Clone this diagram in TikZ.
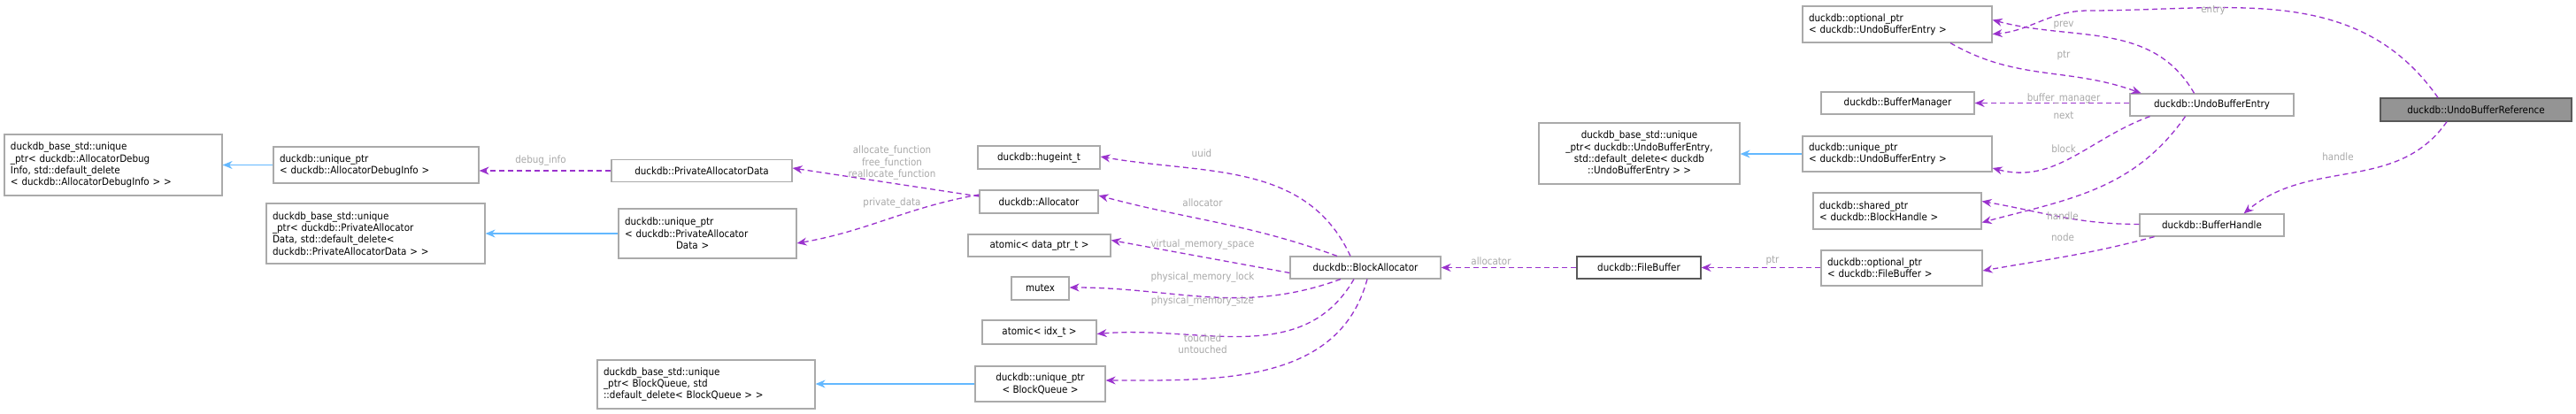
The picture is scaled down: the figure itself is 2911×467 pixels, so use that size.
\documentclass[tikz,border=0pt]{standalone}
\usepackage{fontspec}
\setmainfont{DejaVu Sans Condensed}
\usetikzlibrary{arrows.meta}
\definecolor{edgep}{HTML}{9A32CD}
\definecolor{edgeb}{HTML}{63B8FF}
\definecolor{bord}{HTML}{AAAAAA}
\definecolor{lab}{HTML}{A8A8A8}
\begin{document}
\begin{tikzpicture}[x=1pt,y=-1pt,
  every node/.style={font=\fontsize{11.5}{13.3}\selectfont},
  bx/.style={draw=bord,line width=1.2pt,fill=white,inner sep=0pt,align=left},
  rel/.style={draw=edgep,line width=1.3pt,dash pattern=on 6pt off 4pt,-{Stealth[length=11pt,width=9pt]}},
  inh/.style={draw=edgeb,line width=1.3pt,-{Stealth[length=11pt,width=9pt]}},
  lb/.style={text=lab,inner sep=0pt,align=center}]
\useasboundingbox (0,0) rectangle (2911,467);
% boxes
\node[bx,minimum width=246pt,minimum height=69pt,text width=232pt] (a1) at (128,186.5) {duckdb\_base\_std::unique\\\_ptr< duckdb::AllocatorDebug\\Info, std::default\_delete\\< duckdb::AllocatorDebugInfo > >};
\node[bx,minimum width=232pt,minimum height=41pt,text width=218pt] (upa) at (425,186.5) {duckdb::unique\_ptr\\< duckdb::AllocatorDebugInfo >};
\node[bx,minimum width=204pt,minimum height=25pt,align=center] (pad) at (793,193) {duckdb::PrivateAllocatorData};
\node[bx,minimum width=247pt,minimum height=68pt,text width=233pt] (basep) at (424.5,264) {duckdb\_base\_std::unique\\\_ptr< duckdb::PrivateAllocator\\Data, std::default\_delete<\\ duckdb::PrivateAllocatorData > >};
\node[bx,minimum width=201pt,minimum height=56pt,text width=187pt] (upp) at (799.5,264) {duckdb::unique\_ptr\\< duckdb::PrivateAllocator\\\hspace*{58pt}Data >};
\node[bx,minimum width=138pt,minimum height=26pt,align=center] (huge) at (1174,178) {duckdb::hugeint\_t};
\node[bx,minimum width=134pt,minimum height=26pt,align=center] (alloc) at (1174,228) {duckdb::Allocator};
\node[bx,minimum width=161pt,minimum height=25pt,align=center] (atd) at (1174.5,277.5) {atomic< data\_ptr\_t >};
\node[bx,minimum width=65pt,minimum height=26pt,align=center] (mtx) at (1175.5,326) {mutex};
\node[bx,minimum width=129pt,minimum height=27pt,align=center] (ati) at (1174.5,375.5) {atomic< idx\_t >};
\node[bx,minimum width=147pt,minimum height=40pt,align=center] (upbq) at (1175.5,434) {duckdb::unique\_ptr\\< BlockQueue >};
\node[bx,minimum width=246pt,minimum height=55pt,text width=232pt] (basebq) at (798,434.5) {duckdb\_base\_std::unique\\\_ptr< BlockQueue, std\\::default\_delete< BlockQueue > >};
\node[bx,minimum width=170pt,minimum height=25pt,align=center] (ba) at (1543,302.5) {duckdb::BlockAllocator};
\node[bx,draw=black!65,minimum width=140pt,minimum height=25pt,align=center] (fb) at (1852,302.5) {duckdb::FileBuffer};
\node[bx,minimum width=182pt,minimum height=40pt,text width=168pt] (optfb) at (2149,303) {duckdb::optional\_ptr\\< duckdb::FileBuffer >};
\node[bx,minimum width=190pt,minimum height=41pt,text width=176pt] (sbh) at (2144,238.5) {duckdb::shared\_ptr\\< duckdb::BlockHandle >};
\node[bx,minimum width=163pt,minimum height=25pt,align=center] (bh) at (2499.5,254.5) {duckdb::BufferHandle};
\node[bx,minimum width=214pt,minimum height=40pt,text width=200pt] (upube) at (2144,174) {duckdb::unique\_ptr\\< duckdb::UndoBufferEntry >};
\node[bx,minimum width=227pt,minimum height=69pt,align=center] (baseube) at (1852.5,173.5) {duckdb\_base\_std::unique\\\_ptr< duckdb::UndoBufferEntry,\\std::default\_delete< duckdb\\::UndoBufferEntry > >};
\node[bx,minimum width=214pt,minimum height=41pt,text width=200pt] (optube) at (2144,27.5) {duckdb::optional\_ptr\\< duckdb::UndoBufferEntry >};
\node[bx,minimum width=173pt,minimum height=25pt,align=center] (bm) at (2144.5,116.5) {duckdb::BufferManager};
\node[bx,minimum width=185pt,minimum height=25pt,align=center] (ube) at (2499.5,118.5) {duckdb::UndoBufferEntry};
\node[bx,draw=black!65,fill=black!42,minimum width=216pt,minimum height=26pt,align=center] (ubr) at (2798,124) {duckdb::UndoBufferReference};
% inheritance
\draw[inh] (upa.west) -- (a1.east |- upa.west);
\draw[inh] (upp.west) -- (basep.east |- upp.west);
\draw[inh] (upbq.west) -- (basebq.east |- upbq.west);
\draw[inh] (upube.west) -- (baseube.east |- upube.west);
% relations
\draw[rel] (pad.west) -- (upa.east |- pad.west);
\draw[rel] ([yshift=6pt]alloc.west) -- ([yshift=3pt]pad.east);
\draw[rel] ([yshift=8pt]alloc.west) to[out=190,in=10] ([yshift=-11pt]upp.east);
\draw[rel] ([xshift=-17pt]ba.north) to[out=115,in=-10] ([yshift=1pt]huge.east);
\draw[rel] ([xshift=-32pt]ba.north) to[out=160,in=-15] ([yshift=7pt]alloc.east);
\draw[rel] ([yshift=-6pt]ba.west) -- ([yshift=6pt]atd.east);
\draw[rel] ([xshift=-28pt]ba.south) to[out=200,in=0] ([yshift=1pt]mtx.east);
\draw[rel] ([xshift=-13pt]ba.south) to[out=240,in=5] ([yshift=-2pt]ati.east);
\draw[rel] ([xshift=2pt]ba.south) to[out=255,in=0] ([yshift=4pt]upbq.east);
\draw[rel] (fb.west) -- (ba.east);
\draw[rel] (optfb.west |- fb.east) -- (fb.east);
\draw[rel] ([yshift=1pt]bh.west) to[out=180,in=-10] ([yshift=11pt]sbh.east);
\draw[rel] ([xshift=-65pt]bh.south) to[out=195,in=10] ([yshift=-3pt]optfb.east);
\draw[rel] ([xshift=-20pt]ube.north) to[out=120,in=-15] ([yshift=5pt]optube.east);
\draw[rel] ([xshift=60pt]optube.south) to[out=-30,in=160] ([xshift=-80pt]ube.north);
\draw[rel] (ube.west |- bm.east) -- (bm.east);
\draw[rel] ([xshift=-70pt]ube.south) to[out=200,in=-15] ([yshift=-16pt]upube.east);
\draw[rel] ([xshift=-30pt]ube.south) to[out=235,in=15] ([yshift=-13pt]sbh.east);
\draw[rel] ([xshift=-43pt]ubr.north) to[out=125,in=0] (2360,12) to[out=180,in=5] ([yshift=-11pt]optube.east);
\draw[rel] ([xshift=-33pt]ubr.south) to[out=235,in=40] ([xshift=36pt]bh.north);
% labels
\node[lb] (l1) at (611,181) {debug\_info};
\node[lb] (l2) at (1008,184) {allocate\_function\\free\_function\\reallocate\_function};
\node[lb] (l3) at (1008,229) {private\_data};
\node[lb] (l4) at (1358,173) {uuid};
\node[lb] (l5) at (1359,229) {allocator};
\node[lb] (l6) at (1359,276) {virtual\_memory\_space};
\node[lb] (l7) at (1359,313) {physical\_memory\_lock};
\node[lb] (l8) at (1359,340) {physical\_memory\_size};
\node[lb] (l9) at (1359,389) {touched\\untouched};
\node[lb] (l10) at (1685,295) {allocator};
\node[lb] (l11) at (2003,295) {ptr};
\node[lb] (l12) at (2331,244) {handle};
\node[lb] (l13) at (2331,268) {node};
\node[lb] (l14) at (2501,12) {entry};
\node[lb] (l15) at (2332,28) {prev};
\node[lb] (l16) at (2332,63) {ptr};
\node[lb] (l17) at (2332,111) {buffer\_manager};
\node[lb] (l18) at (2332,131) {next};
\node[lb] (l19) at (2332,168) {block};
\node[lb] (l20) at (2642,177) {handle};
\end{tikzpicture}
\end{document}
